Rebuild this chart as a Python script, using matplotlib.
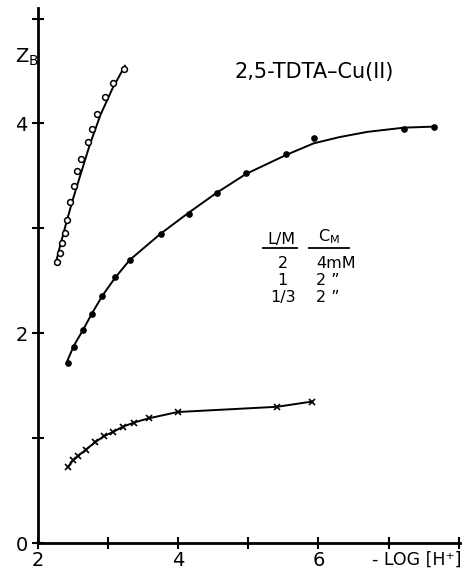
import matplotlib
matplotlib.use("Agg")
from matplotlib import pyplot as plt

# data: -log[H+] vs Z_B
x_open = [2.27, 2.31, 2.34, 2.38, 2.41, 2.46, 2.51, 2.55, 2.61, 2.71, 2.77, 2.84, 2.95, 3.07, 3.22]
z_open = [2.68, 2.77, 2.86, 2.96, 3.08, 3.25, 3.40, 3.55, 3.66, 3.82, 3.95, 4.09, 4.25, 4.39, 4.52]
# fitted line of the top curve
x_open_fit = [2.25, 2.31, 2.39, 2.49, 2.61, 2.74, 2.89, 3.06, 3.24]
z_open_fit = [2.66, 2.82, 3.02, 3.26, 3.52, 3.80, 4.08, 4.33, 4.55]

x_dot = [2.43, 2.51, 2.64, 2.77, 2.92, 3.10, 3.31, 3.75, 4.15, 4.55, 4.97, 5.54, 5.93, 7.22, 7.65]
z_dot = [1.72, 1.87, 2.03, 2.18, 2.36, 2.54, 2.70, 2.95, 3.14, 3.34, 3.53, 3.71, 3.86, 3.95, 3.97]
# fitted line of the middle curve
x_dot_fit = [2.42, 2.51, 2.64, 2.77, 2.92, 3.10, 3.31, 3.75, 4.15, 4.55, 4.97, 5.54, 5.93, 6.3, 6.7, 7.22, 7.65]
z_dot_fit = [1.74, 1.88, 2.03, 2.19, 2.36, 2.53, 2.70, 2.95, 3.15, 3.34, 3.52, 3.70, 3.81, 3.87, 3.92, 3.96, 3.97]

x_cross = [2.43, 2.50, 2.57, 2.68, 2.81, 2.94, 3.07, 3.21, 3.37, 3.58, 3.99, 5.41, 5.91]
z_cross = [0.73, 0.79, 0.83, 0.89, 0.96, 1.02, 1.06, 1.11, 1.15, 1.19, 1.25, 1.30, 1.35]

legend_lm = ["2", "1", "1/3"]
legend_cm = ["4mM", "2 \u201d", "2 \u201d"]

plt.rcParams['font.family'] = ['DejaVu Sans']

fig = plt.figure(figsize=(4.69, 5.73), dpi=100)
ax = fig.add_axes([0.081, 0.052, 0.9, 0.934])

lw = 1.4
ax.plot(x_open_fit, z_open_fit, color="black", lw=lw)
ax.plot(x_open, z_open, "o", ms=4.2, mfc="white", mec="black", mew=1.1)

ax.plot(x_dot_fit, z_dot_fit, color="black", lw=lw)
ax.plot(x_dot, z_dot, "o", ms=3.8, color="black")

ax.plot(x_cross, z_cross, color="black", lw=lw)
ax.plot(x_cross, z_cross, "x", ms=4.5, color="black", mew=1.2)

ax.set_xlim(2, 8.02)
ax.set_ylim(0, 5.1)
for s in ["top", "right"]:
    ax.spines[s].set_visible(False)
for s in ["left", "bottom"]:
    ax.spines[s].set_linewidth(2)

ax.set_xticks([2, 3, 4, 5, 6, 7, 8])
ax.set_xticklabels(["2", "", "4", "", "6", "", ""])
ax.set_yticks([0, 1, 2, 3, 4, 5])
ax.set_yticklabels(["0", "", "2", "", "4", ""])
ax.tick_params(direction="inout", length=9, width=1.5, labelsize=14)
ax.tick_params(axis="y", pad=3)
ax.tick_params(axis="x", pad=1)

ax.text(1.84, 4.63, "Z$_{\\mathrm{B}}$", fontsize=14, ha="center", va="center")
ax.text(5.94, 4.49, "2,5-TDTA\u2013Cu(II)", fontsize=15, ha="center", va="center")
ax.text(7.4, -0.16, "- LOG [H\u207a]", fontsize=12.5, ha="center", va="center", clip_on=False)

# little table
fs = 11.5
ax.text(5.47, 2.89, "L/M", fontsize=fs, ha="center", va="center")
ax.text(6.15, 2.92, "C$_{\\mathrm{M}}$", fontsize=fs, ha="center", va="center")
ax.plot([5.21, 5.70], [2.81, 2.81], color="black", lw=1.3)
ax.plot([5.87, 6.44], [2.81, 2.81], color="black", lw=1.3)
for i, (lm, cm) in enumerate(zip(legend_lm, legend_cm)):
    yy = 2.67 - i * 0.165
    ax.text(5.49, yy, lm, fontsize=fs, ha="center", va="center")
    ax.text(5.97, yy, cm, fontsize=fs, ha="left", va="center")

fig.savefig("out.png", dpi=100)
